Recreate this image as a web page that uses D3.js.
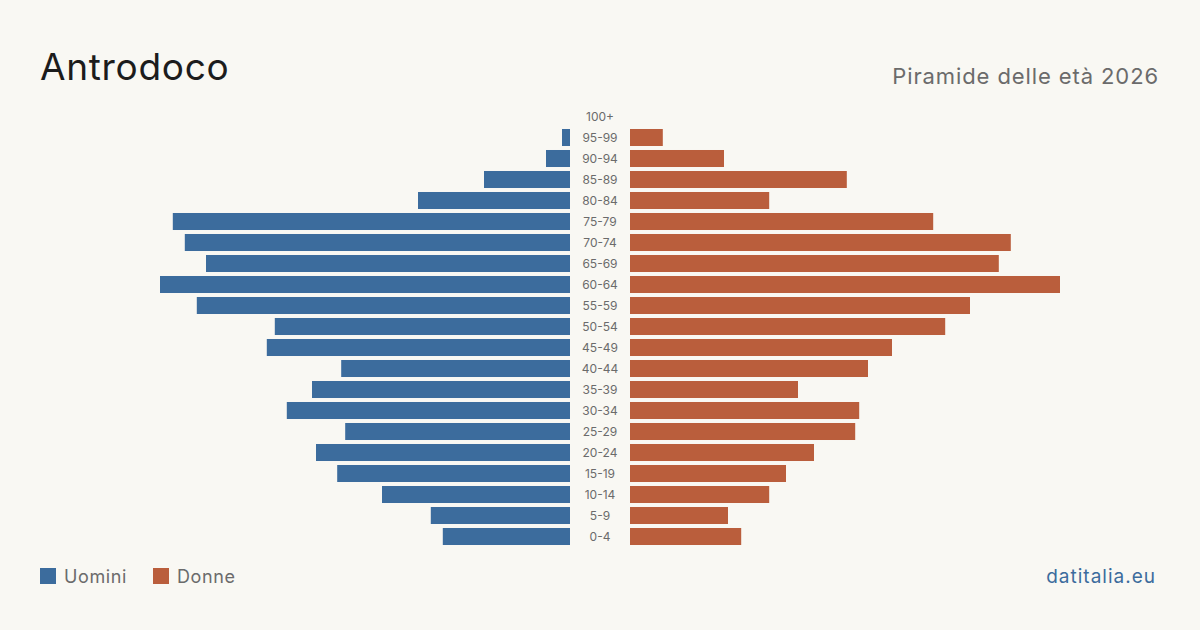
<!DOCTYPE html>
<html>
<head>
<meta charset="utf-8">
<script src="https://cdn.jsdelivr.net/npm/d3@7"></script>
<style>
	body { margin: 0; background: #f9f8f3; }
	svg { display: block; font-family: Inter, "Noto Sans", sans-serif; }
</style>
</head>
<body>
<svg id="chart" width="1200" height="630"></svg>
<script>
// fasce d'età, dall'alto verso il basso
var ageGroups = ["100+", "95-99", "90-94", "85-89", "80-84", "75-79", "70-74", "65-69", "60-64", "55-59",
	"50-54", "45-49", "40-44", "35-39", "30-34", "25-29", "20-24", "15-19", "10-14", "5-9", "0-4"];
var men = [0, 2, 6, 21.5, 38, 99.3, 96.3, 91, 102.5, 93.3, 73.8, 75.8, 57.2, 64.5, 70.8, 56.2, 63.5, 58.2, 47, 34.8, 31.8];
var women = [0, 8.2, 23.5, 54.2, 34.8, 75.8, 95.2, 92.2, 107.5, 85, 78.8, 65.5, 59.5, 42, 57.3, 56.3, 46, 39, 34.8, 24.5, 27.8];

var svg = d3.select("#chart");

var maleColor = "#3c6c9d";
var femaleColor = "#ba5e3c";

var y = d3.scaleBand()
	.domain(ageGroups)
	.range([106, 547])
	.paddingInner(0.19)
	.paddingOuter(0.095);

var xMen = d3.scaleLinear()
	.domain([0, 107.5])
	.range([570, 140]);

var xWomen = d3.scaleLinear()
	.domain([0, 107.5])
	.range([630, 1060]);

svg.selectAll("rect.men")
	.data(men)
	.enter()
	.append("rect")
	.attr("class", "men")
	.attr("x", function(d)
	{
		return xMen(d);
	})
	.attr("y", function(d, i)
	{
		return y(ageGroups[i]);
	})
	.attr("width", function(d)
	{
		return xMen(0) - xMen(d);
	})
	.attr("height", y.bandwidth())
	.style("fill", maleColor);

svg.selectAll("rect.women")
	.data(women)
	.enter()
	.append("rect")
	.attr("class", "women")
	.attr("x", xWomen(0))
	.attr("y", function(d, i)
	{
		return y(ageGroups[i]);
	})
	.attr("width", function(d)
	{
		return xWomen(d) - xWomen(0);
	})
	.attr("height", y.bandwidth())
	.style("fill", femaleColor);

svg.selectAll("text.age")
	.data(ageGroups)
	.enter()
	.append("text")
	.attr("class", "age")
	.text(function(d)
	{
		return d;
	})
	.attr("x", 600)
	.attr("y", function(d)
	{
		return y(d) + y.bandwidth() / 2 + 4;
	})
	.attr("text-anchor", "middle")
	.style("font-size", "12px")
	.style("fill", "#6b6b6b");

// titolo e sottotitolo
svg.append("text")
	.text("Antrodoco")
	.attr("x", 40)
	.attr("y", 80)
	.style("font-size", "37px")
	.style("letter-spacing", "0.7px")
	.style("fill", "#1c1c1c");

svg.append("text")
	.text("Piramide delle età 2026")
	.attr("x", 1159)
	.attr("y", 84)
	.attr("text-anchor", "end")
	.style("font-size", "22px")
	.style("letter-spacing", "0.9px")
	.style("fill", "#6b6b6b");

// legenda
var legend = [
	{ label: "Uomini", color: maleColor, x: 40 },
	{ label: "Donne", color: femaleColor, x: 153 }
];

svg.selectAll("rect.legend")
	.data(legend)
	.enter()
	.append("rect")
	.attr("class", "legend")
	.attr("x", function(d) { return d.x; })
	.attr("y", 568)
	.attr("width", 16)
	.attr("height", 16)
	.style("fill", function(d) { return d.color; });

svg.selectAll("text.legend")
	.data(legend)
	.enter()
	.append("text")
	.attr("class", "legend")
	.text(function(d) { return d.label; })
	.attr("x", function(d) { return d.x + 24; })
	.attr("y", 583)
	.style("font-size", "18px")
	.style("letter-spacing", "0.6px")
	.style("fill", "#6b6b6b");

svg.append("text")
	.text("datitalia.eu")
	.attr("x", 1156)
	.attr("y", 583)
	.attr("text-anchor", "end")
	.style("font-size", "19px")
	.style("letter-spacing", "1px")
	.style("fill", maleColor);
</script>
</body>
</html>
